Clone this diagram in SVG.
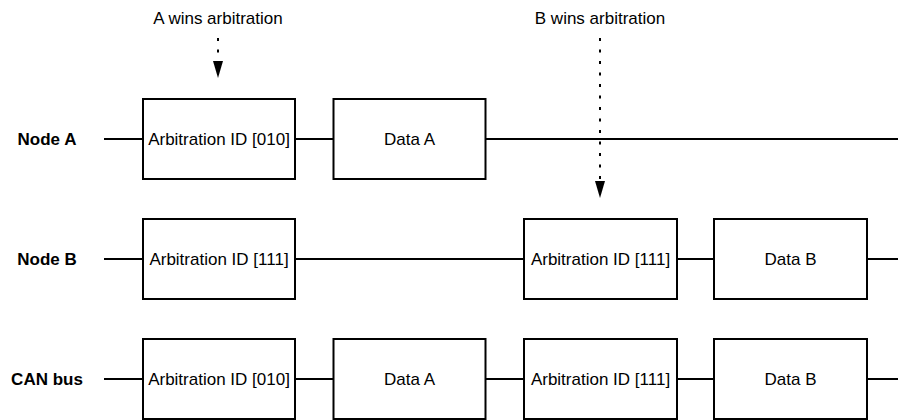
<svg xmlns="http://www.w3.org/2000/svg" width="898" height="420" viewBox="0 0 898 420">
<style>
.box{fill:#fff;stroke:#000;stroke-width:2}
.wire{stroke:#000;stroke-width:2;fill:none}
.dot{stroke:#000;stroke-width:2;fill:none;stroke-dasharray:3 8.5}
.t{font-family:"Liberation Sans",Arial,sans-serif;font-size:17px;fill:#000;text-anchor:middle;dominant-baseline:central}
.lbl{font-family:"Liberation Sans",Arial,sans-serif;font-size:17px;font-weight:bold;fill:#000;text-anchor:middle;dominant-baseline:central}
</style>
<defs>
<marker id="ah" markerWidth="10" markerHeight="17" refX="5" refY="17" orient="auto-start-reverse" markerUnits="userSpaceOnUse" viewBox="0 0 10 17">
<path d="M0,0 L10,0 L5,17 Z" fill="#000"/>
</marker>
</defs>
<rect width="898" height="420" fill="#fff"/>
<g id="connectors">
<line class="wire" x1="104" y1="139" x2="898" y2="139"/>
<line class="wire" x1="104" y1="259" x2="898" y2="259"/>
<line class="wire" x1="104" y1="379" x2="898" y2="379"/>
<line class="dot" x1="218" y1="38" x2="218" y2="61"/>
<path d="M213,61 L223,61 L218,78 Z" fill="#000"/>
<line class="dot" x1="600" y1="38" x2="600" y2="181"/>
<path d="M595,181 L605,181 L600,198 Z" fill="#000"/>
</g>
<g id="label-a-wins"><text class="t" x="218" y="18">A wins arbitration</text></g>
<g id="label-b-wins"><text class="t" x="600" y="18">B wins arbitration</text></g>
<g id="label-nodeA"><text class="lbl" x="47" y="139">Node A</text></g>
<g id="label-nodeB"><text class="lbl" x="47" y="259">Node B</text></g>
<g id="label-can"><text class="lbl" x="47" y="379">CAN bus</text></g>
<g id="a-arb"><rect class="box" x="143" y="99" width="152" height="80"/><text class="t" x="219" y="139">Arbitration ID [010]</text></g>
<g id="a-data"><rect class="box" x="333.5" y="99" width="152" height="80"/><text class="t" x="409.5" y="139">Data A</text></g>
<g id="b-arb1"><rect class="box" x="143" y="219" width="152" height="80"/><text class="t" x="219" y="259">Arbitration ID [111]</text></g>
<g id="b-arb2"><rect class="box" x="524" y="219" width="153" height="80"/><text class="t" x="600.5" y="259">Arbitration ID [111]</text></g>
<g id="b-data"><rect class="box" x="714" y="219" width="153" height="80"/><text class="t" x="790.5" y="259">Data B</text></g>
<g id="c-arb1"><rect class="box" x="143" y="339" width="152" height="80"/><text class="t" x="219" y="379">Arbitration ID [010]</text></g>
<g id="c-data1"><rect class="box" x="333.5" y="339" width="152" height="80"/><text class="t" x="409.5" y="379">Data A</text></g>
<g id="c-arb2"><rect class="box" x="524" y="339" width="153" height="80"/><text class="t" x="600.5" y="379">Arbitration ID [111]</text></g>
<g id="c-data2"><rect class="box" x="714" y="339" width="153" height="80"/><text class="t" x="790.5" y="379">Data B</text></g>
</svg>
